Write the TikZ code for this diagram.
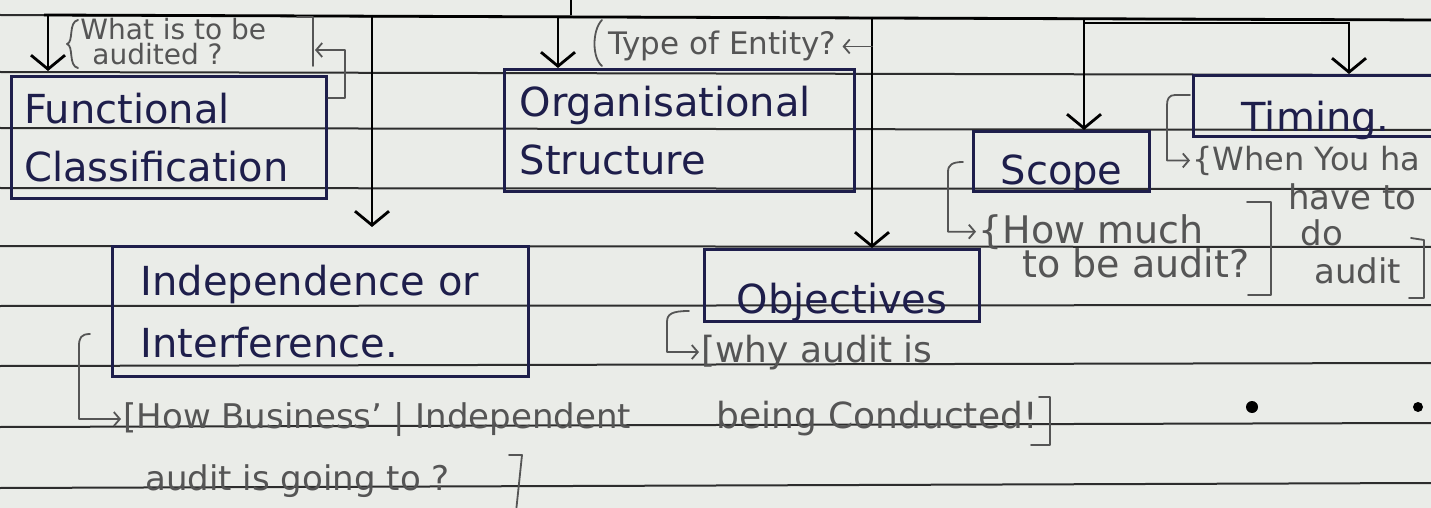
\documentclass[tikz,border=0pt]{standalone}
\usepackage{fontspec}
\setmainfont{DejaVu Sans}
\usetikzlibrary{arrows.meta}
\definecolor{paper}{RGB}{234,236,232}
\definecolor{ink}{RGB}{30,30,75}
\definecolor{ruleline}{RGB}{45,45,45}
\definecolor{pencil}{RGB}{85,85,85}
\tikzset{
  box/.style={draw=ink, line width=1.6pt, text=ink, font=\fontsize{20}{29}\selectfont, align=left, inner sep=0pt, anchor=north west},
  conn/.style={draw=black, line width=1.4pt, -{Straight Barb[length=7pt,width=17pt,line width=1.4pt]}},
  bus/.style={draw=black, line width=1.4pt},
  note/.style={text=pencil, anchor=base west, inner sep=0pt},
  brk/.style={draw=pencil, line width=0.9pt, line cap=round, line join=round},
  noteconn/.style={brk, -{Straight Barb[length=3pt,width=7pt,line width=0.9pt]}},
  ruled/.style={draw=ruleline, line width=1pt},
}
\begin{document}
\begin{tikzpicture}[x=0.5pt,y=-0.5pt]
\fill[paper] (0,0) rectangle (1431,508);
\useasboundingbox (0,0) rectangle (1431,508);
\clip (0,0) rectangle (1431,508);
% ruled paper
\foreach \l/\r in {15/20,72/75,128/130,188/189,246/247,306/305,366/363,427/423,488/483}
  \draw[ruled] (0,\l) -- (1431,\r);

% boxes
\node[box, text width=145pt, minimum width=157.5pt, minimum height=61pt] (func) at (10,75) {Functional\\Classification};
\node[box, text width=160pt, minimum width=175pt, minimum height=61pt] (org) at (503,68) {Organisational\\Structure};
\node[box, font=\fontsize{20}{31}\selectfont, text width=180pt, minimum width=208pt, minimum height=65pt] (indep) at (111,245) {Independence or\\Interference.};
\node[box, minimum width=137.5pt, minimum height=36pt, text height=28pt, text depth=0pt] (obj) at (703,248) {Objectives};
\node[box, minimum width=88pt, minimum height=30pt, text height=23pt, text depth=0pt] (scope) at (972,130) {Scope};
\node[box, minimum width=122pt, minimum height=30.5pt, text height=25.5pt, text depth=0pt] (timing) at (1192,74) {Timing.};

% bus and connectors
\coordinate (s0) at (571,0);
\coordinate (s1) at (571,15);
\draw[bus] (s0) -- (s1);
\coordinate (busL) at (44,15);
\coordinate (busR) at (1431,20);
\draw[bus] (busL) -- (busR);
\coordinate (b1) at (48,15);
\coordinate (b2) at (372,15);
\coordinate (b3) at (558,16);
\coordinate (b4) at (872,17);
\coordinate (b5) at (1084,18);
\coordinate (t1) at (1084,23);
\coordinate (t2) at (1349,23);
\draw[conn, shorten >=2pt] (b1) -- (b1 |- func.north);
\draw[conn, shorten >=9pt] (b2) -- (b2 |- indep.north);
\draw[conn] (b3) -- (b3 |- org.north);
\draw[conn] (b4) -- (b4 |- obj.north);
\draw[conn] (b5) -- (b5 |- scope.north);
\draw[conn] (t1) -- (t2) -- (t2 |- timing.north);

% annotation: what is to be audited
\node[note, font=\fontsize{14}{14}\selectfont] (fq1) at (80,40) {What is to be};
\node[note, font=\fontsize{14}{14}\selectfont] (fq2) at (92,65) {audited ?};
\draw[brk] (78,20) .. controls (68,22) and (74,42) .. (67,44) .. controls (74,46) and (68,66) .. (78,68);
\draw[brk] (297,17) -- (313,17) -- (313,66);
\coordinate (fqr) at (315,50);
\coordinate (fqc) at (345,50);
\draw[noteconn] ([yshift=-11.5pt]func.north east) -| (fqc) -- (fqr);

% annotation: type of entity
\node[note, font=\fontsize{15.5}{15.5}\selectfont] (ent) at (608,55) {Type of Entity?};
\draw[brk] (602,20) .. controls (592,30) and (592,58) .. (602,66);
\draw[noteconn] (ent.east -| b4) -- ([xshift=3pt]ent.east);

% annotation: independence
\node[note, font=\fontsize{17}{17}\selectfont] (ia1) at (123,428) {[How Business' | Independent};
\node[note, font=\fontsize{17}{17}\selectfont] (ia2) at (145,490) {audit is going to ?};
\draw[noteconn] (90,334) .. controls (81,334) and (79,338) .. (79,346) |- ([xshift=-1pt]ia1.west);
\draw[brk] (509,455) -- (522,455) -- (516,512);

% annotation: objectives
\node[note, font=\fontsize{18}{18}\selectfont] (oa1) at (701,362) {[why audit is};
\node[note, font=\fontsize{18}{18}\selectfont] (oa2) at (716,428) {being Conducted!};
\draw[noteconn] (689,311) .. controls (672,311) and (667,314) .. (667,322) |- ([xshift=-1pt]oa1.west);
\draw[brk] (1039,397) -- (1050,397) -- (1050,445) -- (1031,445);

% annotation: scope
\node[note, font=\fontsize{19}{19}\selectfont] (sa1) at (978,243) {\textbraceleft How much};
\node[note, font=\fontsize{19}{19}\selectfont] (sa2) at (1022,278) {to be audit?};
\draw[noteconn] (963,162) .. controls (952,162) and (948,165) .. (948,172) |- ([xshift=-1pt]sa1.west);
\draw[brk] (1247,202) -- (1271,202) -- (1271,295) -- (1248,295);

% annotation: timing
\node[note, font=\fontsize{16}{16}\selectfont] (ta1) at (1192,170) {\textbraceleft When You ha};
\node[note, font=\fontsize{17}{17}\selectfont] (ta2) at (1288,210) {have to};
\node[note, font=\fontsize{17}{17}\selectfont] (ta3) at (1300,245) {do};
\node[note, font=\fontsize{17}{17}\selectfont] (ta4) at (1314,283) {audit};
\draw[noteconn] (1190,95) -- (1175,95) .. controls (1169,95) and (1167,99) .. (1167,105) |- ([xshift=-1pt]ta1.west);
\draw[brk] (1411,238) -- (1424,240) -- (1424,298) -- (1409,298);

% ink dots
\fill[black] (1252,407) circle (3pt);
\fill[black] (1418,407) circle (2.5pt);
\end{tikzpicture}
\end{document}
